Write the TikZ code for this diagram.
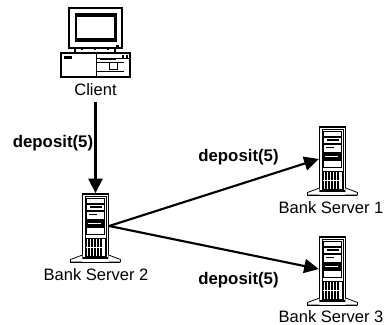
\documentclass[tikz,border=0pt]{standalone}
\usepackage{fontspec}
\setmainfont{Liberation Sans}
\usetikzlibrary{arrows.meta}

\tikzset{every picture/.style={line width=0.75pt}}
\tikzset{
  towerbox/.style={draw,line width=1pt,fill=white,minimum width=19.5pt,minimum height=48pt,inner sep=0pt},
  iconlabel/.style={inner sep=0.75pt,font=\fontsize{12.4}{14}\selectfont},
  msglabel/.style={inner sep=0.75pt,font=\fontsize{12.6}{14}\selectfont\bfseries},
  sendarrow/.style={line width=1.6pt,-{Triangle[length=11pt,width=10.5pt]}},
  servericon/.pic={
    %inner outline
    \draw [line width=0.4pt] (-10.5,-29.5) rectangle (10.5,32) ;
    %base
    \draw [line width=0.6pt,fill=white] (-13,29) -- (-25,33.5) -- (-25,36) -- (-13,36) (13,29) -- (25,33.5) -- (25,36) -- (13,36) ;
    \draw [line width=0.6pt] (-25,36) -- (25,36) ;
    %panel
    \fill (-9,-28) rectangle (9.5,8.5) ;
    \fill [white] (-8,-27) rectangle (8.5,-23.5) ;
    \fill [white] (-8,-21.5) rectangle (8.5,-16.5) ;
    \fill [white] (-8,-14.5) rectangle (8.5,-7) ;
    \fill [white] (-8,1.5) rectangle (8.5,7.5) ;
    \draw [line width=1pt] (-5,-19) -- (7,-19) (-6,-11.5) -- (2,-11.5) ;
    \draw [white,line width=0.6pt] (-7,-2.5) -- (6,-2.5) ;
    %grille
    \draw [line width=0.7pt] (-9,12) rectangle (9.5,30) ;
    \draw [line width=1pt] (-6.5,12) -- (-6.5,30)(-3.5,12) -- (-3.5,30)(-0.5,12) -- (-0.5,30)(2.5,12) -- (2.5,30)(5.5,12) -- (5.5,30) ;
    \draw [white,line width=0.5pt] (-9,21) -- (9.5,21) ;
  }
}

\begin{document}
\begin{tikzpicture}[x=0.75pt,y=0.75pt,yscale=-1,xscale=1]
    \useasboundingbox (0,0) rectangle (387,325);

    %Shape: Monitor
    \draw [line width=0.9pt] (69,8) rectangle (122,48) ;
    \fill (75,13) rectangle (117,42) ;
    \fill [white] (77.5,17) rectangle (114.5,38) ;
    \fill (116,45) rectangle (119,46.5) ;
    %Shape: Neck
    \draw [line width=0.8pt] (75,48) -- (75,53)(115,48) -- (115,53)(82,48) -- (82,50)(95,48) -- (95,50)(108,48) -- (108,50) ;
    %Shape: Desktop
    \draw [line width=0.9pt] (61,53) rectangle (130,77) ;
    \draw [line width=0.5pt] (96,53) -- (96,77)(96,58) -- (130,58) ;
    \fill (64,56) rectangle (72,58.5) ;
    \draw [line width=0.6pt] (96,62) -- (124,62)(96,71) -- (124,71) ;
    \draw [line width=1.2pt] (100,59.5) -- (116,59.5) ;
    \draw [line width=0.7pt] (109,62) rectangle (117,69) ;
    \fill (122,55) rectangle (124.5,59) ;
    \fill (126,55) rectangle (128.5,59) ;

    %Servers
    \node [towerbox] (srvtwo) at (95.5,226) {};
    \pic [yscale=-1] at (srvtwo.center) {servericon};
    \node [towerbox] (srvone) at (332.5,159) {};
    \pic [yscale=-1] at (srvone.center) {servericon};
    \node [towerbox] (srvthree) at (332.5,269) {};
    \pic [yscale=-1] at (srvthree.center) {servericon};

    % Text Node
    \node [iconlabel] (clienttext) at (95.5,90) {Client};
    % Text Node
    \node [iconlabel] (srvtwotext) at (96,275) {Bank Server 2};
    % Text Node
    \node [iconlabel] (srvonetext) at (331,208) {Bank Server 1};
    % Text Node
    \node [iconlabel] (srvthreetext) at (331,317) {Bank Server 3};
    % Text Node
    \node [msglabel] (msgclient) at (53,143) {deposit(5)};
    % Text Node
    \node [msglabel] (msgone) at (238.5,157) {deposit(5)};
    % Text Node
    \node [msglabel] (msgthree) at (238.5,280) {deposit(5)};

    %Straight Lines
    \draw [sendarrow,shorten <=3pt] (clienttext) -- (srvtwo.north) ;
    \draw [sendarrow] (srvtwo.east) -- (srvone.west) ;
    \draw [sendarrow] (srvtwo.east) -- (srvthree.west) ;
\end{tikzpicture}
\end{document}
